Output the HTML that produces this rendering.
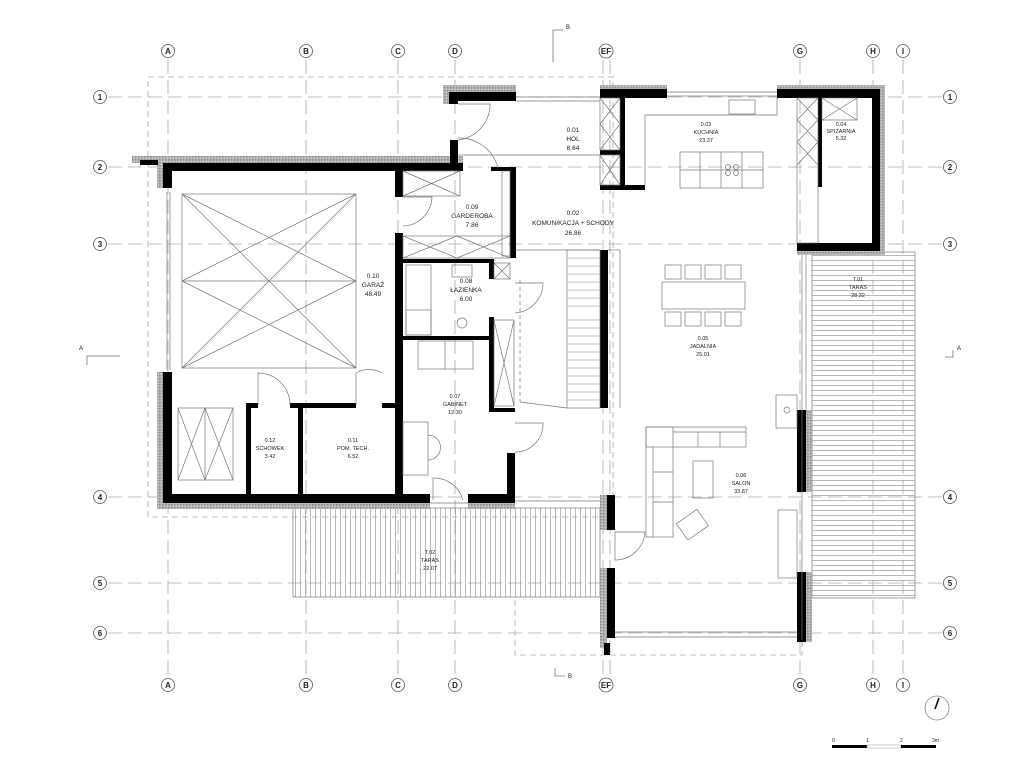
<!DOCTYPE html>
<html><head><meta charset="utf-8"><style>
html,body{margin:0;padding:0;background:#fff;}
svg{display:block;}
text{font-family:"Liberation Sans",sans-serif;fill:#222;}
</style></head><body>
<svg width="1024" height="778" viewBox="0 0 1024 778" xmlns="http://www.w3.org/2000/svg">
<defs>
<pattern id="vh" width="5" height="10" patternUnits="userSpaceOnUse"><line x1="0.5" y1="0" x2="0.5" y2="10" stroke="#999" stroke-width="0.7"/></pattern>
<pattern id="hh" width="10" height="5" patternUnits="userSpaceOnUse"><line x1="0" y1="0.5" x2="10" y2="0.5" stroke="#999" stroke-width="0.7"/></pattern>
<pattern id="gr" width="3" height="3" patternUnits="userSpaceOnUse"><rect width="3" height="3" fill="#bbb"/><rect width="1.5" height="1.5" fill="#888"/></pattern>
</defs>

<!-- grid lines -->
<g stroke="#aaa" stroke-width="0.8" stroke-dasharray="14,6" fill="none">
<line x1="168" y1="60" x2="168" y2="676"/><line x1="306" y1="60" x2="306" y2="676"/>
<line x1="398" y1="60" x2="398" y2="676"/><line x1="455" y1="60" x2="455" y2="676"/>
<line x1="603" y1="60" x2="603" y2="676"/><line x1="610" y1="60" x2="610" y2="676"/>
<line x1="800" y1="60" x2="800" y2="676"/><line x1="873" y1="60" x2="873" y2="676"/>
<line x1="903" y1="60" x2="903" y2="676"/>
<line x1="108" y1="97" x2="942" y2="97"/><line x1="108" y1="167" x2="942" y2="167"/>
<line x1="108" y1="244" x2="942" y2="244"/><line x1="108" y1="497" x2="942" y2="497"/>
<line x1="108" y1="583" x2="942" y2="583"/><line x1="108" y1="633" x2="942" y2="633"/>
</g>
<!-- outline dashed -->
<g stroke="#aaa" stroke-width="0.8" stroke-dasharray="6,4" fill="none">
<rect x="148" y="77" width="465" height="440"/>
<polyline points="515,600 515,655 802,655 802,640"/>
</g>

<!-- grid labels -->
<g fill="#fff" stroke="#555" stroke-width="0.8">
<circle cx="168" cy="51" r="6.5"/><circle cx="306" cy="51" r="6.5"/><circle cx="398" cy="51" r="6.5"/><circle cx="455" cy="51" r="6.5"/><circle cx="606" cy="51" r="7"/><circle cx="800" cy="51" r="6.5"/><circle cx="873" cy="51" r="6.5"/><circle cx="903" cy="51" r="6.5"/>
<circle cx="168" cy="685" r="6.5"/><circle cx="306" cy="685" r="6.5"/><circle cx="398" cy="685" r="6.5"/><circle cx="455" cy="685" r="6.5"/><circle cx="606" cy="685" r="7"/><circle cx="800" cy="685" r="6.5"/><circle cx="873" cy="685" r="6.5"/><circle cx="903" cy="685" r="6.5"/>
<circle cx="100" cy="97" r="6.5"/><circle cx="100" cy="167" r="6.5"/><circle cx="100" cy="244" r="6.5"/><circle cx="100" cy="497" r="6.5"/><circle cx="100" cy="583" r="6.5"/><circle cx="100" cy="633" r="6.5"/>
<circle cx="950" cy="97" r="6.5"/><circle cx="950" cy="167" r="6.5"/><circle cx="950" cy="244" r="6.5"/><circle cx="950" cy="497" r="6.5"/><circle cx="950" cy="583" r="6.5"/><circle cx="950" cy="633" r="6.5"/>
</g>
<g font-size="8" text-anchor="middle" font-weight="bold">
<text x="168" y="54">A</text><text x="306" y="54">B</text><text x="398" y="54">C</text><text x="455" y="54">D</text><text x="606" y="54">EF</text><text x="800" y="54">G</text><text x="873" y="54">H</text><text x="903" y="54">I</text>
<text x="168" y="688">A</text><text x="306" y="688">B</text><text x="398" y="688">C</text><text x="455" y="688">D</text><text x="606" y="688">EF</text><text x="800" y="688">G</text><text x="873" y="688">H</text><text x="903" y="688">I</text>
<text x="100" y="100">1</text><text x="100" y="170">2</text><text x="100" y="247">3</text><text x="100" y="500">4</text><text x="100" y="586">5</text><text x="100" y="636">6</text>
<text x="950" y="100">1</text><text x="950" y="170">2</text><text x="950" y="247">3</text><text x="950" y="500">4</text><text x="950" y="586">5</text><text x="950" y="636">6</text>
</g>
<!-- section marks -->
<g stroke="#777" stroke-width="0.8" fill="none">
<polyline points="553,62 553,30 563,30"/><polyline points="555,668 555,676 565,676"/>
<polyline points="87,357 87,348 120,348" transform="translate(0,8)"/>
<polyline points="945,357 953,357 953,350"/>
</g>
<text x="566" y="29" font-size="6">B</text><text x="568" y="678" font-size="6">B</text>
<text x="79" y="350" font-size="6">A</text><text x="957" y="350" font-size="6">A</text>

<!-- terraces -->
<rect x="293" y="508" width="307" height="89" fill="url(#vh)" stroke="#888" stroke-width="0.8"/>
<rect x="812" y="252" width="103" height="346" fill="url(#hh)" stroke="#888" stroke-width="0.8"/>

<!-- insulation (gray) -->
<g fill="url(#gr)">
<rect x="132" y="156" width="331" height="7"/><rect x="157" y="163" width="6" height="25"/>
<rect x="157" y="372" width="6" height="135"/><rect x="157" y="503" width="273" height="6"/><rect x="468" y="503" width="47" height="6"/>
<rect x="443" y="85" width="73" height="7"/><rect x="443" y="92" width="6" height="12"/>
<rect x="600" y="85" width="67" height="4"/><rect x="777" y="85" width="107" height="4"/>
<rect x="880" y="85" width="5" height="170"/><rect x="797" y="251" width="88" height="4"/>
<rect x="806" y="410" width="6" height="82"/><rect x="806" y="572" width="6" height="70"/>
<rect x="600" y="495" width="7" height="35"/><rect x="600" y="568" width="7" height="80"/>
</g>
<!-- walls -->
<g fill="#000">
<rect x="140" y="160" width="18" height="5"/>
<rect x="163" y="163" width="300" height="8"/>
<rect x="163" y="163" width="9" height="25"/>
<rect x="163" y="372" width="9" height="131"/>
<rect x="163" y="494" width="267" height="9"/>
<rect x="468" y="494" width="47" height="9"/>
<rect x="507" y="453" width="8" height="50"/>
<rect x="449" y="92" width="67" height="9"/>
<rect x="449" y="92" width="9" height="12"/>
<rect x="450" y="140" width="8" height="31"/>
<rect x="600" y="89" width="67" height="9"/>
<rect x="777" y="89" width="103" height="9"/>
<rect x="872" y="89" width="8" height="162"/>
<rect x="797" y="243" width="83" height="8"/>
<rect x="620" y="97" width="5" height="90"/>
<rect x="600" y="150" width="20" height="5"/>
<rect x="600" y="185" width="45" height="5"/>
<rect x="818" y="97" width="4" height="90"/>
<rect x="797" y="410" width="9" height="82"/>
<rect x="797" y="572" width="9" height="70"/>
<rect x="607" y="495" width="8" height="35"/>
<rect x="607" y="568" width="8" height="70"/>
<rect x="604" y="643" width="6" height="12"/>
<rect x="600" y="250" width="8" height="158"/>
<rect x="395" y="170" width="8" height="27"/>
<rect x="395" y="233" width="8" height="262"/>
<rect x="403" y="259" width="90" height="4"/>
<rect x="403" y="336" width="90" height="4"/>
<rect x="489" y="259" width="5" height="20"/>
<rect x="489" y="317" width="5" height="95"/>
<rect x="489" y="408" width="26" height="4"/>
<rect x="510" y="167" width="6" height="91"/>
<rect x="491" y="167" width="25" height="4"/>
<rect x="246" y="403" width="5" height="92"/>
<rect x="246" y="403" width="12" height="5"/>
<rect x="290" y="403" width="66" height="5"/>
<rect x="382" y="403" width="16" height="5"/>
<rect x="298" y="403" width="5" height="92"/>
</g>

<!-- thin lines: furniture, doors, windows -->
<g stroke="#777" stroke-width="0.7" fill="none">
<rect x="182" y="194" width="174" height="174"/>
<line x1="182" y1="194" x2="356" y2="368"/><line x1="356" y1="194" x2="182" y2="368"/>
<line x1="182" y1="281" x2="356" y2="281"/>
<line x1="182" y1="194" x2="356" y2="281"/><line x1="182" y1="281" x2="356" y2="194"/>
<line x1="182" y1="281" x2="356" y2="368"/><line x1="182" y1="368" x2="356" y2="281"/>
<line x1="167" y1="192" x2="167" y2="370"/><line x1="170" y1="192" x2="170" y2="370"/>
<rect x="178" y="408" width="55" height="72"/><line x1="205" y1="408" x2="205" y2="480"/>
<line x1="178" y1="408" x2="205" y2="480"/><line x1="205" y1="408" x2="178" y2="480"/>
<line x1="205" y1="408" x2="233" y2="480"/><line x1="233" y1="408" x2="205" y2="480"/>
<path d="M258 405 V373 A32 32 0 0 1 290 405"/>
<path d="M356 405 V373 A26 26 0 0 1 382 373"/>
<path d="M403 197 H432 A30 30 0 0 1 403 226"/>
<rect x="403" y="171" width="57" height="25"/><line x1="403" y1="171" x2="460" y2="196"/><line x1="460" y1="171" x2="403" y2="196"/>
<rect x="403" y="236" width="107" height="22"/><line x1="403" y1="236" x2="457" y2="258"/><line x1="457" y1="236" x2="403" y2="258"/><line x1="457" y1="236" x2="510" y2="258"/><line x1="510" y1="236" x2="457" y2="258"/>
<rect x="502" y="171" width="8" height="85"/>
<path d="M458 104 H490 A36 36 0 0 1 458 140"/>
<path d="M458 138 A40 40 0 0 1 498 168"/>
<rect x="406" y="265" width="25" height="70"/><rect x="406" y="310" width="25" height="25"/>
<rect x="452" y="265" width="20" height="12"/><circle cx="462" cy="323" r="5"/>
<rect x="494" y="263" width="16" height="16"/><line x1="494" y1="263" x2="510" y2="279"/><line x1="510" y1="263" x2="494" y2="279"/>
<path d="M515 283 H543 A30 30 0 0 1 515 313"/>
<rect x="494" y="320" width="20" height="86"/><line x1="494" y1="320" x2="514" y2="406"/><line x1="514" y1="320" x2="494" y2="406"/>
<rect x="418" y="341" width="55" height="28"/><line x1="445" y1="341" x2="445" y2="369"/>
<rect x="403" y="422" width="25" height="53"/><path d="M428 435 A12 12 0 0 1 428 460"/>
<path d="M515 423 H543 A28 28 0 0 1 515 452"/>
<path d="M433 500 V478 A30 30 0 0 1 463 500"/>
<line x1="515" y1="250" x2="600" y2="250"/>
<rect x="567" y="250" width="33" height="158"/>
<g stroke="#aaa"><line x1="567" y1="258" x2="600" y2="258"/><line x1="567" y1="266" x2="600" y2="266"/><line x1="567" y1="274" x2="600" y2="274"/><line x1="567" y1="282" x2="600" y2="282"/><line x1="567" y1="290" x2="600" y2="290"/><line x1="567" y1="298" x2="600" y2="298"/><line x1="567" y1="306" x2="600" y2="306"/><line x1="567" y1="320" x2="600" y2="320"/><line x1="567" y1="328" x2="600" y2="328"/><line x1="567" y1="336" x2="600" y2="336"/><line x1="567" y1="344" x2="600" y2="344"/><line x1="567" y1="352" x2="600" y2="352"/><line x1="567" y1="360" x2="600" y2="360"/><line x1="567" y1="368" x2="600" y2="368"/><line x1="567" y1="376" x2="600" y2="376"/><line x1="567" y1="384" x2="600" y2="384"/><line x1="567" y1="392" x2="600" y2="392"/><line x1="567" y1="400" x2="600" y2="400"/></g>
<line x1="520" y1="402" x2="567" y2="408"/><line x1="520" y1="280" x2="520" y2="402" stroke-dasharray="4,3"/>
<line x1="608" y1="250" x2="620" y2="250"/><line x1="620" y1="250" x2="620" y2="408"/>
<line x1="516" y1="97" x2="600" y2="97"/><line x1="516" y1="101" x2="600" y2="101"/><line x1="458" y1="155" x2="600" y2="155"/>
<line x1="667" y1="92" x2="777" y2="92"/><line x1="667" y1="96" x2="777" y2="96"/>
<rect x="600" y="98" width="20" height="52"/><line x1="600" y1="98" x2="620" y2="124"/><line x1="620" y1="98" x2="600" y2="124"/><line x1="600" y1="124" x2="620" y2="150"/><line x1="620" y1="124" x2="600" y2="150"/>
<rect x="600" y="155" width="20" height="30"/><line x1="600" y1="155" x2="620" y2="185"/><line x1="620" y1="155" x2="600" y2="185"/>
<polyline points="645,185 645,115 777,115 777,98"/>
<rect x="729" y="100" width="26" height="14"/>
<rect x="680" y="152" width="83" height="36"/><line x1="700" y1="152" x2="700" y2="188"/><line x1="721" y1="152" x2="721" y2="188"/><line x1="742" y1="152" x2="742" y2="188"/><line x1="680" y1="170" x2="763" y2="170"/>
<circle cx="728" cy="167" r="2.5"/><circle cx="736" cy="167" r="2.5"/><circle cx="728" cy="173" r="2.5"/><circle cx="736" cy="173" r="2.5"/>
<rect x="797" y="98" width="21" height="145"/><line x1="797" y1="98" x2="818" y2="120"/><line x1="818" y1="98" x2="797" y2="120"/><line x1="797" y1="120" x2="818" y2="142"/><line x1="818" y1="120" x2="797" y2="142"/><line x1="797" y1="142" x2="818" y2="165"/><line x1="818" y1="142" x2="797" y2="165"/>
<rect x="822" y="98" width="35" height="22"/><line x1="822" y1="98" x2="857" y2="120"/><line x1="857" y1="98" x2="822" y2="120"/>
<rect x="665" y="265" width="16" height="14"/><rect x="685" y="265" width="16" height="14"/><rect x="705" y="265" width="16" height="14"/><rect x="725" y="265" width="16" height="14"/>
<rect x="662" y="282" width="83" height="27"/>
<rect x="665" y="312" width="16" height="14"/><rect x="685" y="312" width="16" height="14"/><rect x="705" y="312" width="16" height="14"/><rect x="725" y="312" width="16" height="14"/>
<line x1="802" y1="255" x2="802" y2="640"/><line x1="806" y1="255" x2="806" y2="410"/>
<rect x="776" y="395" width="21" height="33"/><circle cx="787" cy="410" r="3"/>
<rect x="646" y="427" width="100" height="20"/><rect x="646" y="427" width="27" height="110"/>
<line x1="673" y1="432" x2="746" y2="432"/><line x1="698" y1="432" x2="698" y2="447"/><line x1="720" y1="432" x2="720" y2="447"/>
<line x1="653" y1="447" x2="653" y2="537"/><line x1="653" y1="472" x2="673" y2="472"/><line x1="653" y1="502" x2="673" y2="502"/>
<rect x="693" y="461" width="20" height="37"/>
<rect x="680" y="515" width="25" height="20" transform="rotate(-35 692 525)"/>
<rect x="778" y="510" width="19" height="68"/>
<line x1="615" y1="632" x2="797" y2="632"/><line x1="615" y1="637" x2="797" y2="637"/>
<path d="M615 532 V560 M615 532 H645 A30 30 0 0 1 615 560"/>
<line x1="430" y1="503" x2="468" y2="503"/><line x1="515" y1="501" x2="600" y2="501"/>
</g>

<!-- room labels -->
<g font-size="6.5" text-anchor="middle">
<text x="573" y="132">0.01</text><text x="573" y="141">HOL</text><text x="573" y="150">8.64</text>
<text x="706" y="126" font-size="5.5">0.03</text><text x="706" y="134" font-size="5.5">KUCHNIA</text><text x="706" y="142" font-size="5.5">23.37</text>
<text x="841" y="126" font-size="5.5">0.04</text><text x="841" y="133" font-size="5.5">SPIŻARNIA</text><text x="841" y="140" font-size="5.5">5.32</text>
<text x="573" y="215">0.02</text><text x="573" y="225">KOMUNIKACJA + SCHODY</text><text x="573" y="235">26.86</text>
<text x="472" y="209">0.09</text><text x="472" y="218">GARDEROBA</text><text x="472" y="227">7.86</text>
<text x="466" y="283">0.08</text><text x="466" y="292">ŁAZIENKA</text><text x="466" y="301">6.00</text>
<text x="373" y="278">0.10</text><text x="373" y="287">GARAŻ</text><text x="373" y="296">48.49</text>
<text x="455" y="398" font-size="5.5">0.07</text><text x="455" y="406" font-size="5.5">GABINET</text><text x="455" y="414" font-size="5.5">12.30</text>
<text x="270" y="442" font-size="5.5">0.12</text><text x="270" y="450" font-size="5.5">SCHOWEK</text><text x="270" y="458" font-size="5.5">3.42</text>
<text x="353" y="442" font-size="5.5">0.11</text><text x="353" y="450" font-size="5.5">POM. TECH.</text><text x="353" y="458" font-size="5.5">6.52</text>
<text x="703" y="340" font-size="5.5">0.05</text><text x="703" y="348" font-size="5.5">JADALNIA</text><text x="703" y="356" font-size="5.5">25.01</text>
<text x="741" y="477" font-size="5.5">0.06</text><text x="741" y="485" font-size="5.5">SALON</text><text x="741" y="493" font-size="5.5">33.87</text>
<text x="858" y="281" font-size="5.5">T.01</text><text x="858" y="289" font-size="5.5">TARAS</text><text x="858" y="297" font-size="5.5">28.32</text>
<text x="430" y="554" font-size="5.5">T.02</text><text x="430" y="562" font-size="5.5">TARAS</text><text x="430" y="570" font-size="5.5">22.07</text>
</g>

<!-- north arrow and scale -->
<circle cx="937" cy="708" r="12" fill="none" stroke="#888" stroke-width="0.8"/>
<line x1="935" y1="709" x2="939" y2="698" stroke="#000" stroke-width="1.5"/>
<g font-size="5" fill="#555"><text x="832" y="742">0</text><text x="866" y="742">1</text><text x="900" y="742">2</text><text x="932" y="742">3m</text></g>
<rect x="832" y="745" width="35" height="3" fill="#000"/>
<rect x="867" y="745" width="34" height="3" fill="#fff" stroke="#999" stroke-width="0.5"/>
<rect x="901" y="745" width="35" height="3" fill="#000"/>
</svg>
</body></html>
